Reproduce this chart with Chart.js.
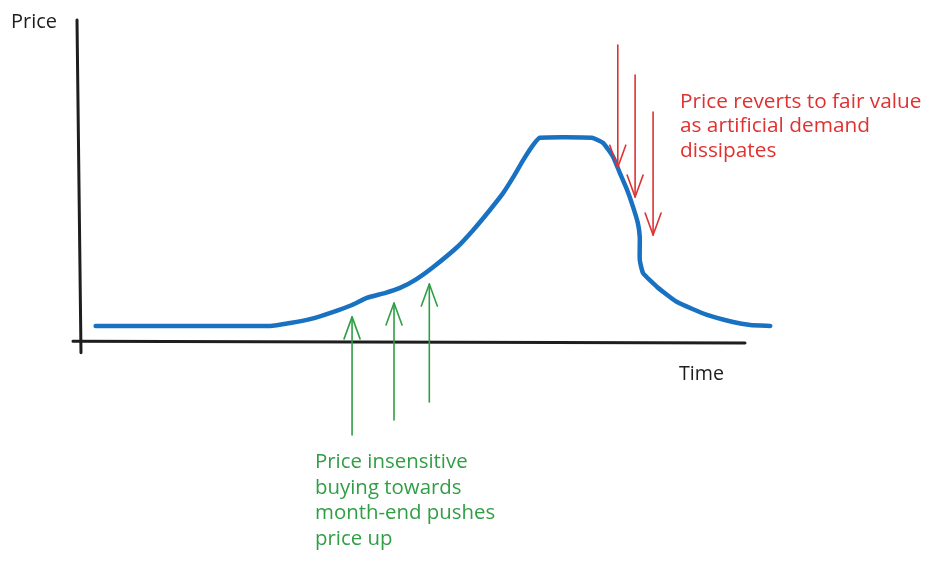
<!DOCTYPE html>
<html><head><meta charset="utf-8">
<script src="https://cdn.jsdelivr.net/npm/chart.js@4/dist/chart.umd.min.js"></script>
<style>html,body{margin:0;padding:0;background:#fff;} #wrap{width:945px;height:561px;position:relative;}</style>
</head><body><div id="wrap"><canvas id="c" width="945" height="561"></canvas></div>
<script>
// ---- data (time in arbitrary units 0..100, price in arbitrary units 0..100) ----
const timeValues  = [2.5, 28.7, 31.7, 34.7, 38.1, 41.0, 43.2, 45.9, 48.2, 50.5, 53.2, 56.8, 59.2, 61.7, 63.7, 65.2, 66.7, 68.2, 69.2, 77.0, 78.7, 80.2, 81.2, 82.3, 83.2, 83.9, 84.2, 84.2, 84.7, 86.8, 89.8, 94.3, 98.2, 100.8, 103.8];
const priceValues = [5.0, 5.0, 5.9, 7.1, 9.3, 11.5, 13.7, 15.2, 16.8, 19.3, 23.3, 29.5, 34.8, 41.0, 46.3, 51.2, 56.5, 61.2, 63.4, 63.4, 61.8, 57.5, 52.5, 47.2, 41.9, 37.0, 32.6, 25.5, 21.4, 17.1, 12.4, 8.4, 6.2, 5.3, 5.0];

const greenArrowTimes = [41.0, 47.3, 52.6];
const greenArrowFrom  = [-28.9, -24.2, -18.6];
const greenArrowTo    = [7.8, 12.1, 18.0];

const redArrowTimes = [80.9, 83.5, 86.2];
const redArrowFrom  = [92.2, 82.9, 71.4];
const redArrowTo    = [54.3, 45.0, 33.2];

const yAxisLabel = 'Price';
const xAxisLabel = 'Time';
const redNote   = ['Price reverts to fair value', 'as artificial demand', 'dissipates'];
const greenNote = ['Price insensitive', 'buying towards', 'month-end pushes', 'price up'];

// ---- styling ----
const BLUE = '#1971c2', GREEN = '#2f9e44', RED = '#e03131', INK = '#1e1e1e';
const FONT = '"Open Sans", "DejaVu Sans", sans-serif';

function fitFont(ctx, lines, targetWidth, base) {
  ctx.font = base + 'px ' + FONT;
  const w = lines.reduce((s, l) => s + ctx.measureText(l).width, 0);
  return base * targetWidth / w;
}

function arrow(ctx, x, y0, y1, color, width) {
  const dir = y1 < y0 ? -1 : 1;
  ctx.save();
  ctx.strokeStyle = color; ctx.lineWidth = width; ctx.lineCap = 'round'; ctx.lineJoin = 'round';
  ctx.beginPath(); ctx.moveTo(x, y0); ctx.lineTo(x, y1); ctx.stroke();
  ctx.beginPath();
  ctx.moveTo(x - 8, y1 - dir * 22); ctx.lineTo(x, y1); ctx.lineTo(x + 8, y1 - dir * 22);
  ctx.stroke();
  ctx.restore();
}

const sketchPlugin = {
  id: 'sketch',
  beforeDatasetsDraw(chart) {
    const {ctx, scales: {x, y}} = chart;
    ctx.save();
    ctx.strokeStyle = INK; ctx.lineWidth = 3; ctx.lineCap = 'round';
    // y axis
    ctx.beginPath();
    ctx.moveTo(x.getPixelForValue(-0.3), y.getPixelForValue(100));
    ctx.lineTo(x.getPixelForValue(0.3), y.getPixelForValue(-3.3));
    ctx.stroke();
    // x axis
    ctx.beginPath();
    ctx.moveTo(x.getPixelForValue(-0.9), y.getPixelForValue(0.2));
    ctx.lineTo(x.getPixelForValue(100), y.getPixelForValue(-0.3));
    ctx.stroke();
    ctx.restore();
  },
  afterDatasetsDraw(chart) {
    const {ctx, scales: {x, y}} = chart;
    greenArrowTimes.forEach((t, i) => arrow(ctx, x.getPixelForValue(t), y.getPixelForValue(greenArrowFrom[i]), y.getPixelForValue(greenArrowTo[i]), GREEN, 1.6));
    redArrowTimes.forEach((t, i) => arrow(ctx, x.getPixelForValue(t), y.getPixelForValue(redArrowFrom[i]), y.getPixelForValue(redArrowTo[i]), RED, 1.6));

    ctx.save();
    ctx.textBaseline = 'alphabetic'; ctx.textAlign = 'left';
    // axis labels
    ctx.fillStyle = INK;
    let fs = fitFont(ctx, [yAxisLabel], 46, 16);
    ctx.font = fs + 'px ' + FONT;
    ctx.fillText(yAxisLabel, 11, 28);
    fs = fitFont(ctx, [xAxisLabel], 45, 16);
    ctx.font = fs + 'px ' + FONT;
    ctx.fillText(xAxisLabel, 679, 380);
    // red note
    ctx.fillStyle = RED;
    fs = fitFont(ctx, redNote, 248 + 185 + 95, 18);
    ctx.font = fs + 'px ' + FONT;
    redNote.forEach((l, i) => ctx.fillText(l, 680, 108 + i * 24.3));
    // green note
    ctx.fillStyle = GREEN;
    fs = fitFont(ctx, greenNote, 158 + 147 + 175 + 77, 18);
    ctx.font = fs + 'px ' + FONT;
    greenNote.forEach((l, i) => ctx.fillText(l, 315, 468 + i * 25.5));
    ctx.restore();
  }
};

new Chart(document.getElementById('c'), {
  type: 'line',
  data: {
    datasets: [{
      data: timeValues.map((t, i) => ({x: t, y: priceValues[i]})),
      borderColor: BLUE,
      borderWidth: 4.5,
      pointRadius: 0,
      tension: 0.15,
      borderCapStyle: 'round',
      borderJoinStyle: 'round',
      clip: false
    }]
  },
  options: {
    responsive: false,
    animation: false,
    events: [],
    layout: {padding: {left: 79, right: 133.4, top: 20, bottom: 219}},
    plugins: {legend: {display: false}, tooltip: {enabled: false}},
    scales: {
      x: {type: 'linear', min: 0, max: 110, display: false},
      y: {type: 'linear', min: 0, max: 100, display: false}
    }
  },
  plugins: [sketchPlugin]
});
</script>
</body></html>
